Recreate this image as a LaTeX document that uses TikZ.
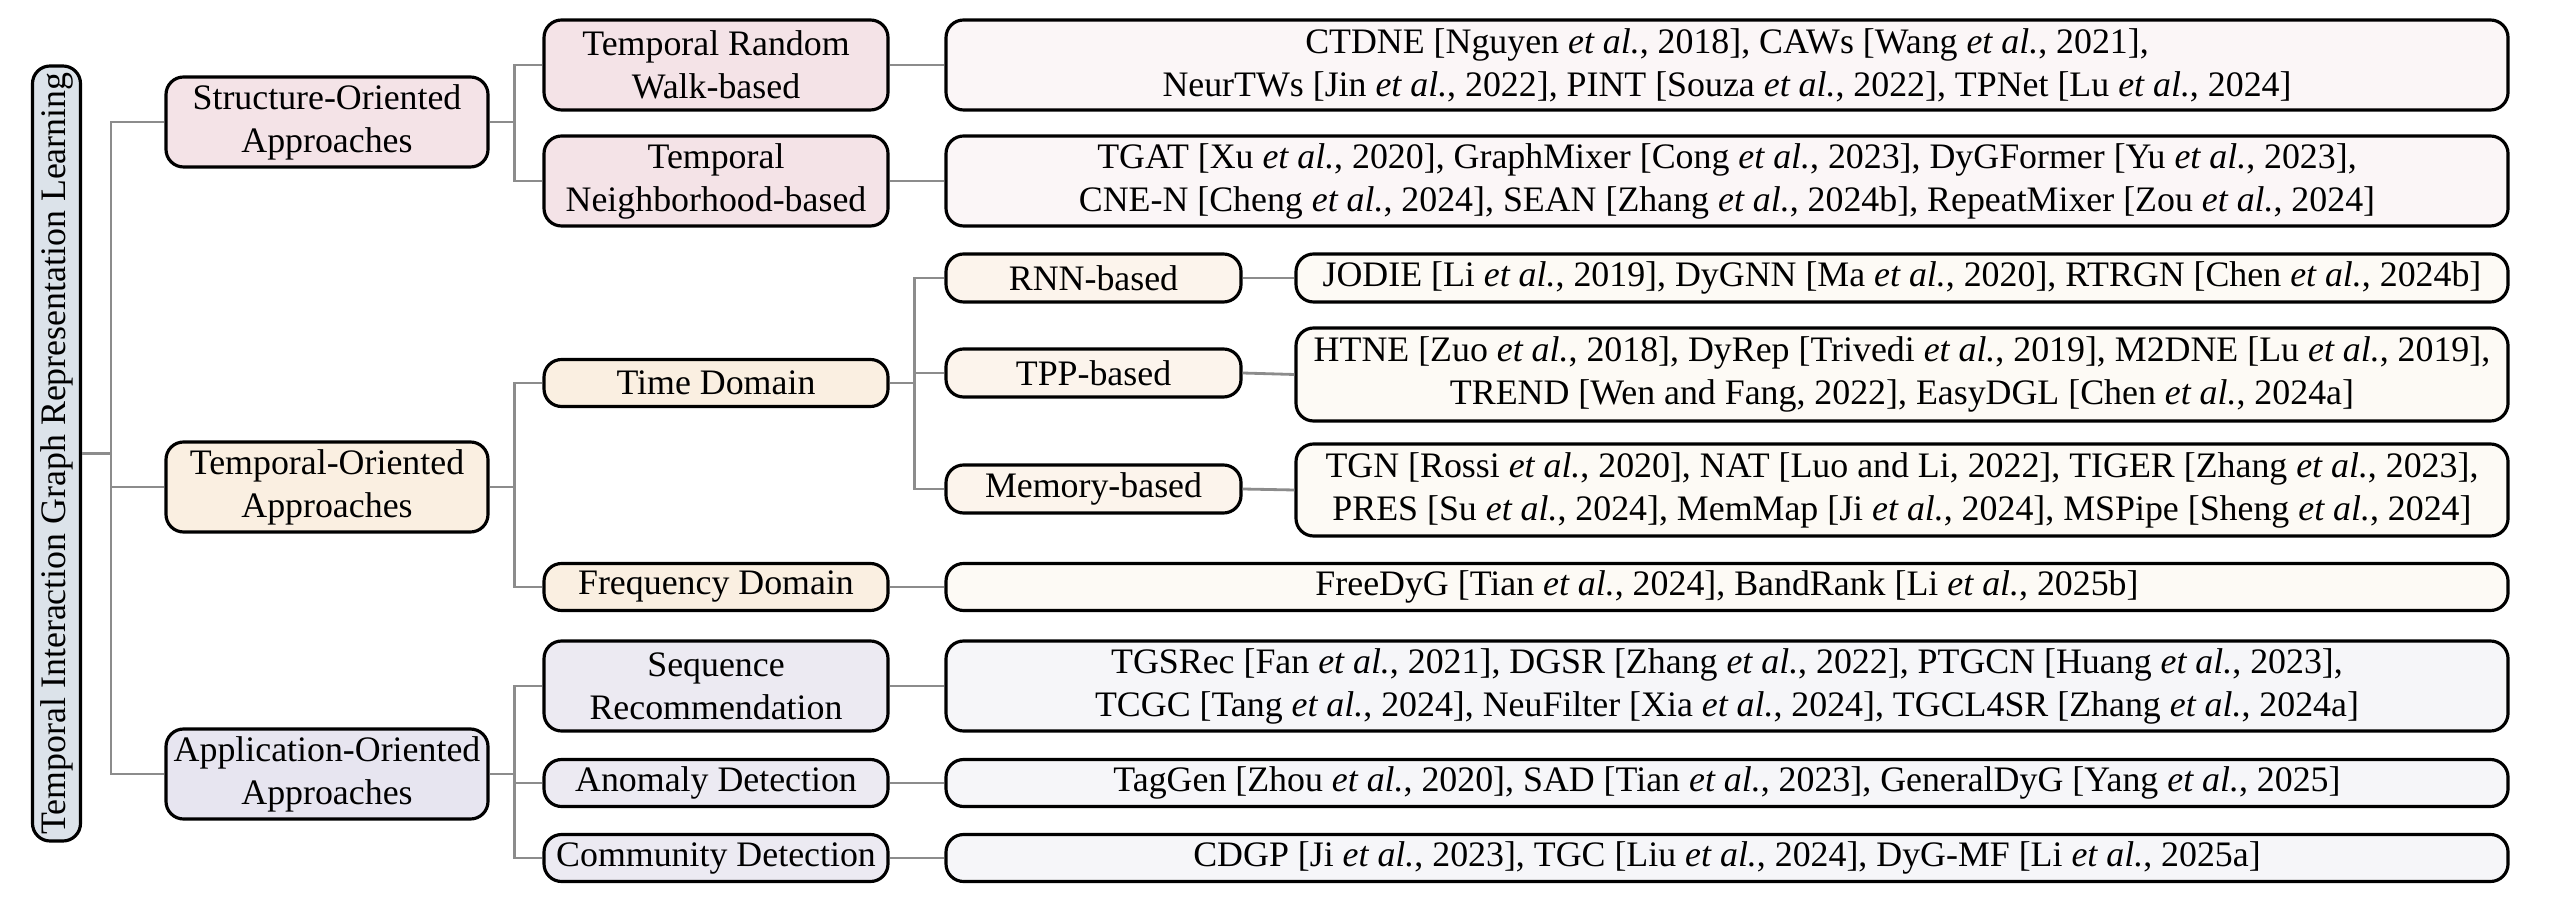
\documentclass[tikz,border=0pt]{standalone}
\usepackage{fontspec}
\setmainfont{Liberation Serif}
\usetikzlibrary{calc}

\definecolor{rootfill}{HTML}{DCE3EA}
\definecolor{strfill}{HTML}{F4E3E7}
\definecolor{strleaf}{HTML}{FBF6F7}
\definecolor{tmpfill}{HTML}{FAEFE1}
\definecolor{tmpthree}{HTML}{FCF4EC}
\definecolor{tmpleaf}{HTML}{FDFAF5}
\definecolor{appfill}{HTML}{E7E5F0}
\definecolor{apptwo}{HTML}{ECEAF2}
\definecolor{appleaf}{HTML}{F6F6F9}
\definecolor{linkgray}{HTML}{8C8C8C}

\newcommand{\etal}{\textit{et al.}}

\begin{document}
\begin{tikzpicture}[font=\fontsize{10.2}{12.2}\selectfont,
    box/.style={draw=black, line width=0.9pt, rounded corners=5pt, align=center, inner xsep=1pt, inner ysep=1pt},
    rootbox/.style={box, rotate=90, fill=rootfill, minimum width=7.75cm, minimum height=0.48cm},
    lvone/.style={box, minimum width=3.22cm, minimum height=0.90cm},
    lvtwo/.style={box, minimum width=3.44cm},
    lvthree/.style={box, fill=tmpthree, minimum width=2.95cm, minimum height=0.48cm},
    leaf/.style={box, minimum width=15.62cm},
    leafthree/.style={box, fill=tmpleaf, minimum width=12.12cm},
    link/.style={draw=linkgray, line width=0.8pt}]

    \useasboundingbox (0, 0) rectangle (25.70, -9.10);

    \def\tall{0.90cm}
    \def\short{0.47cm}

    % root
    \node[rootbox] (root) at (0.565, -4.535) {Temporal Interaction Graph Representation Learning};

    % level one
    \node[lvone, fill=strfill] (str) at (3.27, -1.22) {Structure-Oriented\\Approaches};
    \node[lvone, fill=tmpfill] (tmp) at (3.27, -4.87) {Temporal-Oriented\\Approaches};
    \node[lvone, fill=appfill] (app) at (3.27, -7.74) {Application-Oriented\\Approaches};

    % level two
    \node[lvtwo, fill=strfill, minimum height=\tall] (walk) at (7.16, -0.65) {Temporal Random\\Walk-based};
    \node[lvtwo, fill=strfill, minimum height=\tall] (nbr) at (7.16, -1.81) {Temporal\\Neighborhood-based};
    \node[lvtwo, fill=tmpfill, minimum height=\short] (time) at (7.16, -3.83) {Time Domain};
    \node[lvtwo, fill=tmpfill, minimum height=\short] (freq) at (7.16, -5.87) {Frequency Domain};
    \node[lvtwo, fill=apptwo, minimum height=\tall] (seq) at (7.16, -6.86) {Sequence\\Recommendation};
    \node[lvtwo, fill=apptwo, minimum height=\short] (anom) at (7.16, -7.83) {Anomaly Detection};
    \node[lvtwo, fill=apptwo, minimum height=\short] (comm) at (7.16, -8.58) {Community Detection};

    % level three (time domain)
    \node[lvthree] (rnn) at (10.935, -2.78) {RNN-based};
    \node[lvthree] (tpp) at (10.935, -3.73) {TPP-based};
    \node[lvthree] (mem) at (10.935, -4.89) {Memory-based};

    % leaves
    \node[leaf, fill=strleaf, minimum height=\tall] (walkl) at (17.27, -0.65)
        {CTDNE [Nguyen \etal, 2018], CAWs [Wang \etal, 2021],\\NeurTWs [Jin \etal, 2022], PINT [Souza \etal, 2022], TPNet [Lu \etal, 2024]};
    \node[leaf, fill=strleaf, minimum height=\tall] (nbrl) at (17.27, -1.81)
        {TGAT [Xu \etal, 2020], GraphMixer [Cong \etal, 2023], DyGFormer [Yu \etal, 2023],\\CNE-N [Cheng \etal, 2024], SEAN [Zhang \etal, 2024b], RepeatMixer [Zou \etal, 2024]};
    \node[leafthree, minimum height=0.48cm] (rnnl) at (19.02, -2.78)
        {JODIE [Li \etal, 2019], DyGNN [Ma \etal, 2020], RTRGN [Chen \etal, 2024b]};
    \node[leafthree, minimum height=0.93cm] (tppl) at (19.02, -3.745)
        {HTNE [Zuo \etal, 2018], DyRep [Trivedi \etal, 2019], M2DNE [Lu \etal, 2019],\\TREND [Wen and Fang, 2022], EasyDGL [Chen \etal, 2024a]};
    \node[leafthree, minimum height=0.92cm] (meml) at (19.02, -4.90)
        {TGN [Rossi \etal, 2020], NAT [Luo and Li, 2022], TIGER [Zhang \etal, 2023],\\PRES [Su \etal, 2024], MemMap [Ji \etal, 2024], MSPipe [Sheng \etal, 2024]};
    \node[leaf, fill=tmpleaf, minimum height=\short] (freql) at (17.27, -5.87)
        {FreeDyG [Tian \etal, 2024], BandRank [Li \etal, 2025b]};
    \node[leaf, fill=appleaf, minimum height=\tall] (seql) at (17.27, -6.86)
        {TGSRec [Fan \etal, 2021], DGSR [Zhang \etal, 2022], PTGCN [Huang \etal, 2023],\\TCGC [Tang \etal, 2024], NeuFilter [Xia \etal, 2024], TGCL4SR [Zhang \etal, 2024a]};
    \node[leaf, fill=appleaf, minimum height=\short] (anoml) at (17.27, -7.83)
        {TagGen [Zhou \etal, 2020], SAD [Tian \etal, 2023], GeneralDyG [Yang \etal, 2025]};
    \node[leaf, fill=appleaf, minimum height=\short] (comml) at (17.27, -8.58)
        {CDGP [Ji \etal, 2023], TGC [Liu \etal, 2024], DyG-MF [Li \etal, 2025a]};

    % tree links
    \foreach \c in {str, tmp, app}
        \draw[link] (root.south) -- ++(0.29, 0) |- (\c.west);
    \foreach \c in {walk, nbr}
        \draw[link] (str.east) -- ++(0.25, 0) |- (\c.west);
    \foreach \c in {time, freq}
        \draw[link] (tmp.east) -- ++(0.25, 0) |- (\c.west);
    \foreach \c in {seq, anom, comm}
        \draw[link] (app.east) -- ++(0.25, 0) |- (\c.west);
    \foreach \c in {rnn, tpp, mem}
        \draw[link] (time.east) -- ++(0.25, 0) |- (\c.west);

    % leaf links
    \foreach \p in {walk, nbr, freq, seq, anom, comm, rnn, tpp, mem}
        \draw[link] (\p.east) -- (\p l.west);

\end{tikzpicture}
\end{document}
